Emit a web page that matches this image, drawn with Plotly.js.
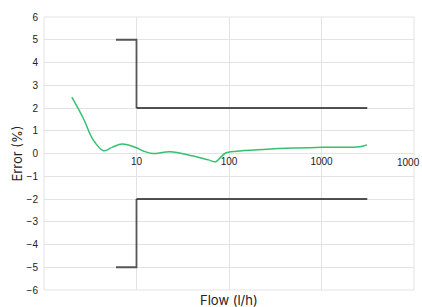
<!DOCTYPE html>
<html>
<head>
<meta charset="utf-8">
<script src="https://cdn.plot.ly/plotly-3.0.1.min.js"></script>
<style>html,body{margin:0;padding:0;background:#fff;}#chart{width:422px;height:307px;}</style>
</head>
<body>
<div id="chart"></div>
<script>
// Measured error curve
const flowX = [2, 2.66, 3.4, 4.4, 5.5, 7, 10, 12, 15, 23, 40, 60, 72, 82, 92, 120, 235, 500, 1000, 2600, 3100];
const errorY = [2.48, 1.55, 0.6, 0.12, 0.28, 0.42, 0.25, 0.1, 0.0, 0.08, -0.1, -0.28, -0.36, -0.15, 0.02, 0.1, 0.18, 0.24, 0.27, 0.3, 0.38];

// Error limits (step part and long part)
const upperStepX = [6, 10, 10];
const upperStepY = [5, 5, 2];
const upperLongX = [10, 3125];
const upperLongY = [2, 2];
const lowerStepX = [6, 10, 10];
const lowerStepY = [-5, -5, -2];
const lowerLongX = [10, 3125];
const lowerLongY = [-2, -2];

// Axis ticks (the last one, at the right edge, is labelled by an annotation so it stays inside the page)
const xTickVals = [10, 100, 1000, 10000];
const xTickText = ['10', '100', '1000', ''];
const lastTickVal = 10000;
const lastTickText = '1000';
const yTickVals = [-6, -5, -4, -3, -2, -1, 0, 1, 2, 3, 4, 5, 6];

const stepColor = '#555555';
const longColor = '#1a1a1a';
const gridColor = '#e3e3e3';
const tickFont = {family: 'Liberation Sans, Arial, sans-serif', size: 10, color: '#222'};

const traces = [
  {x: upperStepX, y: upperStepY, mode: 'lines', line: {color: stepColor, width: 1.8}, hoverinfo: 'skip'},
  {x: upperLongX, y: upperLongY, mode: 'lines', line: {color: longColor, width: 1.7}, hoverinfo: 'skip'},
  {x: lowerStepX, y: lowerStepY, mode: 'lines', line: {color: stepColor, width: 1.8}, hoverinfo: 'skip'},
  {x: lowerLongX, y: lowerLongY, mode: 'lines', line: {color: longColor, width: 1.7}, hoverinfo: 'skip'},
  {x: flowX, y: errorY, mode: 'lines', line: {color: '#35c071', width: 1.5, shape: 'spline', smoothing: 1}, hoverinfo: 'skip'}
];

const layout = {
  width: 422, height: 307,
  margin: {l: 44, r: 8, t: 17, b: 17},
  showlegend: false,
  paper_bgcolor: '#ffffff', plot_bgcolor: '#ffffff',
  font: tickFont,
  xaxis: {
    type: 'log', range: [0, 4],
    anchor: 'free', position: 0.5,
    tickvals: xTickVals, ticktext: xTickText,
    showgrid: true, gridcolor: gridColor, gridwidth: 1,
    showline: false, zeroline: false, ticks: '',
    tickfont: tickFont
  },
  yaxis: {
    range: [-6, 6],
    tickvals: yTickVals,
    showgrid: true, gridcolor: gridColor, gridwidth: 1,
    zeroline: false, showline: false, ticks: '',
    ticklabelstandoff: 5,
    tickfont: tickFont,
    title: {text: 'Error (%)', font: {family: 'Inter, sans-serif', size: 13, color: '#222'}, standoff: 1}
  },
  shapes: [{
    type: 'rect', xref: 'paper', yref: 'paper', x0: 0, x1: 1, y0: 0, y1: 1,
    line: {color: gridColor, width: 1}, layer: 'below'
  }],
  annotations: [
    {
      text: 'Flow (l/h)', xref: 'paper', yref: 'paper', x: 0.5, y: 0,
      xanchor: 'center', yanchor: 'middle', yshift: -10, showarrow: false, borderpad: 0,
      font: {family: 'Inter, sans-serif', size: 13, color: '#222'}
    },
    {
      text: lastTickText, xref: 'x', yref: 'y', x: Math.log10(lastTickVal), y: 0,
      xanchor: 'right', yanchor: 'top', xshift: 7, yshift: -2, showarrow: false, borderpad: 0,
      font: tickFont
    }
  ]
};

Plotly.newPlot('chart', traces, layout, {displayModeBar: false, staticPlot: true});
</script>
</body>
</html>
